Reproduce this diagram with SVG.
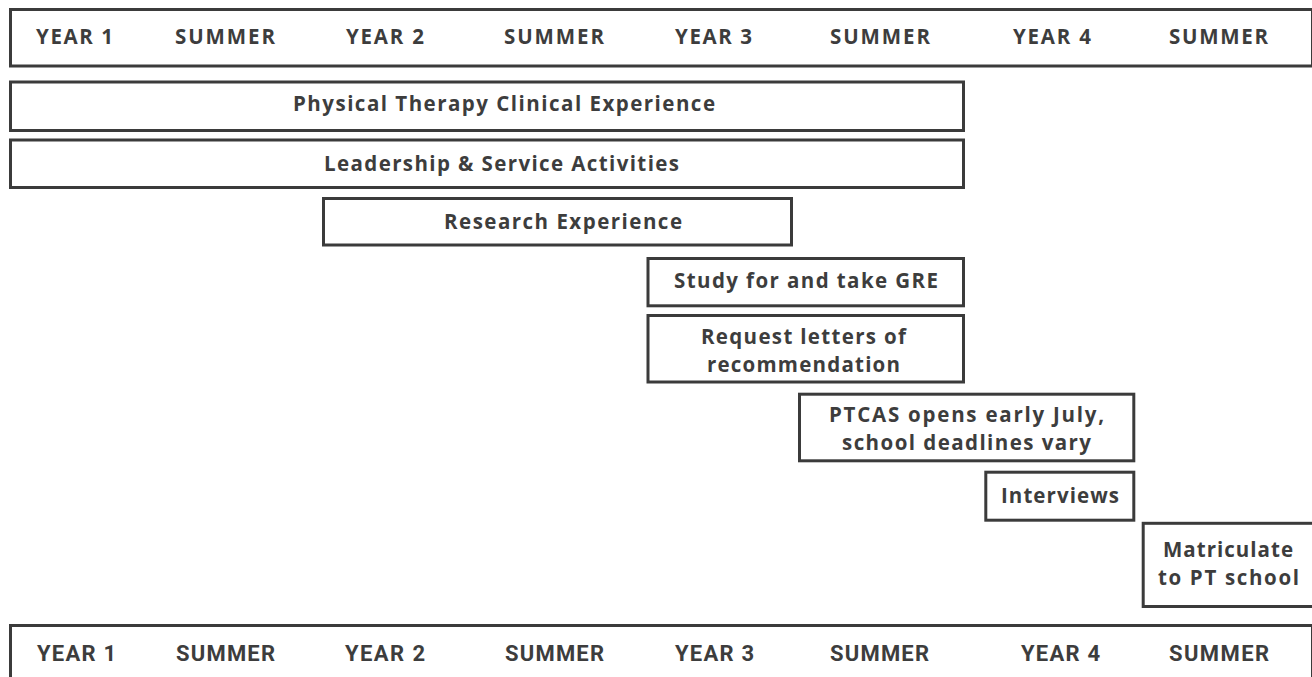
<svg xmlns="http://www.w3.org/2000/svg" width="1312" height="677" viewBox="0 0 1312 677">
<style>
.box{fill:#ffffff;stroke:#3b3b3b;stroke-width:3}
.hd{font-family:"Open Sans",Lato,sans-serif;font-weight:700;font-size:20.5px;fill:#3d3d3d}
.hd2{font-family:Roboto,"Liberation Sans",sans-serif;font-weight:700;font-size:22px;fill:#3d3d3d}
.lb{font-family:"Open Sans",Lato,sans-serif;font-weight:700;font-size:20.5px;fill:#3d3d3d}
</style>
<rect x="0" y="0" width="1312" height="677" fill="#ffffff"/>
<g id="header-top">
<rect class="box" x="10.5" y="9.5" width="1302" height="56.5"/>
<text class="hd" x="36" y="44" textLength="77" lengthAdjust="spacing">YEAR 1</text>
<text class="hd" x="175" y="44" textLength="100" lengthAdjust="spacing">SUMMER</text>
<text class="hd" x="346" y="44" textLength="78" lengthAdjust="spacing">YEAR 2</text>
<text class="hd" x="504" y="44" textLength="100" lengthAdjust="spacing">SUMMER</text>
<text class="hd" x="675" y="44" textLength="77" lengthAdjust="spacing">YEAR 3</text>
<text class="hd" x="830" y="44" textLength="100" lengthAdjust="spacing">SUMMER</text>
<text class="hd" x="1013" y="44" textLength="78" lengthAdjust="spacing">YEAR 4</text>
<text class="hd" x="1169" y="44" textLength="99" lengthAdjust="spacing">SUMMER</text>
</g>
<g id="pt-clinical">
<rect class="box" x="10.5" y="82" width="953" height="48.5"/>
<text class="lb" x="293" y="111" textLength="422" lengthAdjust="spacing">Physical Therapy Clinical Experience</text>
</g>
<g id="leadership">
<rect class="box" x="10.5" y="140" width="953" height="47.5"/>
<text class="lb" x="324" y="171" textLength="355" lengthAdjust="spacing">Leadership &amp; Service Activities</text>
</g>
<g id="research">
<rect class="box" x="323.5" y="198.5" width="468" height="46.5"/>
<text class="lb" x="444" y="228.5" textLength="238" lengthAdjust="spacing">Research Experience</text>
</g>
<g id="gre">
<rect class="box" x="648" y="258.5" width="315.5" height="47.3"/>
<text class="lb" x="674" y="288.3" textLength="264" lengthAdjust="spacing">Study for and take GRE</text>
</g>
<g id="letters">
<rect class="box" x="648" y="315.5" width="315.5" height="66.5"/>
<text class="lb" x="701" y="344" textLength="205" lengthAdjust="spacing">Request letters of</text>
<text class="lb" x="707" y="372.3" textLength="193" lengthAdjust="spacing">recommendation</text>
</g>
<g id="ptcas">
<rect class="box" x="799.5" y="394.2" width="334.3" height="66.6"/>
<text class="lb" x="829" y="422" textLength="275" lengthAdjust="spacing">PTCAS opens early July,</text>
<text class="lb" x="842" y="450" textLength="249" lengthAdjust="spacing">school deadlines vary</text>
</g>
<g id="interviews">
<rect class="box" x="985.8" y="472.2" width="148" height="48"/>
<text class="lb" x="1001" y="502.7" textLength="118" lengthAdjust="spacing">Interviews</text>
</g>
<g id="matriculate">
<rect class="box" x="1143.2" y="523.3" width="172" height="83.2"/>
<text class="lb" x="1163" y="556.7" textLength="130" lengthAdjust="spacing">Matriculate</text>
<text class="lb" x="1158" y="585" textLength="141" lengthAdjust="spacing">to PT school</text>
</g>
<g id="header-bottom">
<rect class="box" x="10.5" y="625.5" width="1302" height="60"/>
<text class="hd2" x="37" y="661" textLength="79" lengthAdjust="spacing">YEAR 1</text>
<text class="hd2" x="176" y="661" textLength="99" lengthAdjust="spacing">SUMMER</text>
<text class="hd2" x="345" y="661" textLength="80" lengthAdjust="spacing">YEAR 2</text>
<text class="hd2" x="505" y="661" textLength="99" lengthAdjust="spacing">SUMMER</text>
<text class="hd2" x="675" y="661" textLength="79" lengthAdjust="spacing">YEAR 3</text>
<text class="hd2" x="830" y="661" textLength="99" lengthAdjust="spacing">SUMMER</text>
<text class="hd2" x="1021" y="661" textLength="79" lengthAdjust="spacing">YEAR 4</text>
<text class="hd2" x="1169" y="661" textLength="100" lengthAdjust="spacing">SUMMER</text>
</g>
<g id="connectors"></g>
</svg>
